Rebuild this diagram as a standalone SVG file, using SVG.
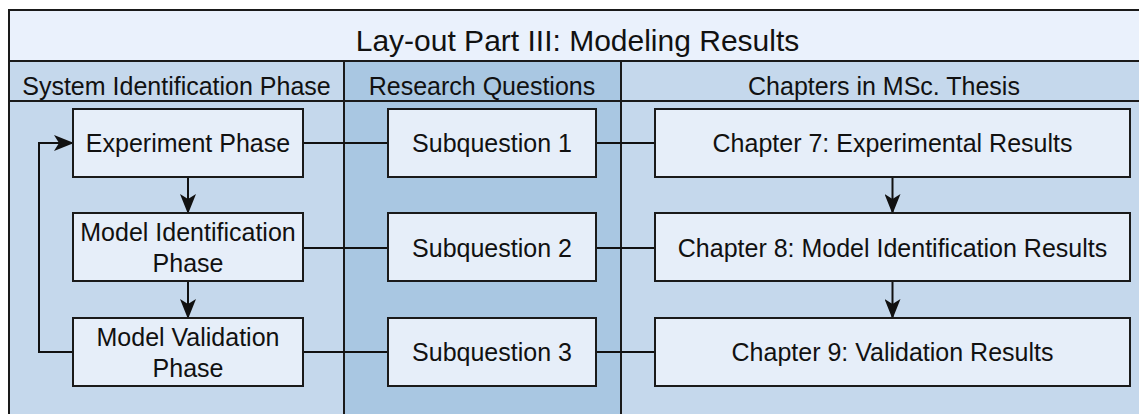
<svg xmlns="http://www.w3.org/2000/svg" width="1139" height="414" viewBox="0 0 1139 414">
  <style>
    text { font-family: "Liberation Sans", Arial, sans-serif; fill: #111; text-anchor: middle; }
    .title { font-size: 30px; }
    .hdr { font-size: 25px; }
    .lbl { font-size: 25px; }
    .grid { stroke: #1a1a1a; stroke-width: 2; fill: none; }
    .box { fill: #e6eef9; stroke: #1a1a1a; stroke-width: 2; }
    .conn { stroke: #111; stroke-width: 2; fill: none; }
  </style>
  <defs>
    <marker id="arrow" viewBox="0 0 20 16" refX="19" refY="8" markerWidth="20" markerHeight="16" markerUnits="userSpaceOnUse" orient="auto">
      <path d="M0,0 L20,8 L0,16 L5,8 Z" fill="#111"/>
    </marker>
  </defs>

  <!-- swimlane backgrounds -->
  <g id="lanes">
    <rect x="9" y="10" width="1145" height="51" fill="#eaf1fc"/>
    <rect x="9" y="61" width="335" height="360" fill="#c5d8ec"/>
    <rect x="344" y="61" width="277" height="360" fill="#a9c7e2"/>
    <rect x="621" y="61" width="533" height="360" fill="#c5d8ec"/>
    <path class="grid" d="M1154,10 H9 V420 M9,61 H1154 M9,101 H1154 M344,61 V420 M621,61 V420"/>
    <text class="title" x="577.5" y="51">Lay-out Part III: Modeling Results</text>
    <text class="hdr" x="176.5" y="95">System Identification Phase</text>
    <text class="hdr" x="482" y="95">Research Questions</text>
    <text class="hdr" x="884" y="95">Chapters in MSc. Thesis</text>
  </g>

  <!-- connectors -->
  <g id="connectors">
    <path class="conn" d="M303,143 H388 M596,143 H655"/>
    <path class="conn" d="M303,248 H388 M596,248 H655"/>
    <path class="conn" d="M303,352 H388 M596,352 H655"/>
    <path class="conn" d="M188,177 V213" marker-end="url(#arrow)"/>
    <path class="conn" d="M188,281 V318" marker-end="url(#arrow)"/>
    <path class="conn" d="M73,352 H39 V143 H73" marker-end="url(#arrow)"/>
    <path class="conn" d="M892.5,177 V213" marker-end="url(#arrow)"/>
    <path class="conn" d="M892.5,281 V318" marker-end="url(#arrow)"/>
  </g>

  <!-- system identification phases -->
  <g id="experiment-phase">
    <rect class="box" x="73" y="109" width="230" height="68"/>
    <text class="lbl" x="188" y="152">Experiment Phase</text>
  </g>
  <g id="model-identification-phase">
    <rect class="box" x="73" y="213" width="230" height="68"/>
    <text class="lbl" x="188" y="241">Model Identification</text>
    <text class="lbl" x="188" y="272">Phase</text>
  </g>
  <g id="model-validation-phase">
    <rect class="box" x="73" y="318" width="230" height="68"/>
    <text class="lbl" x="188" y="346">Model Validation</text>
    <text class="lbl" x="188" y="377">Phase</text>
  </g>

  <!-- research questions -->
  <g id="subquestion-1">
    <rect class="box" x="388" y="109" width="208" height="68"/>
    <text class="lbl" x="492" y="152">Subquestion 1</text>
  </g>
  <g id="subquestion-2">
    <rect class="box" x="388" y="213" width="208" height="68"/>
    <text class="lbl" x="492" y="257">Subquestion 2</text>
  </g>
  <g id="subquestion-3">
    <rect class="box" x="388" y="318" width="208" height="68"/>
    <text class="lbl" x="492" y="361">Subquestion 3</text>
  </g>

  <!-- thesis chapters -->
  <g id="chapter-7">
    <rect class="box" x="655" y="109" width="475" height="68"/>
    <text class="lbl" x="892.5" y="152">Chapter 7: Experimental Results</text>
  </g>
  <g id="chapter-8">
    <rect class="box" x="655" y="213" width="475" height="68"/>
    <text class="lbl" x="892.5" y="257">Chapter 8: Model Identification Results</text>
  </g>
  <g id="chapter-9">
    <rect class="box" x="655" y="318" width="475" height="68"/>
    <text class="lbl" x="892.5" y="361">Chapter 9: Validation Results</text>
  </g>
</svg>
